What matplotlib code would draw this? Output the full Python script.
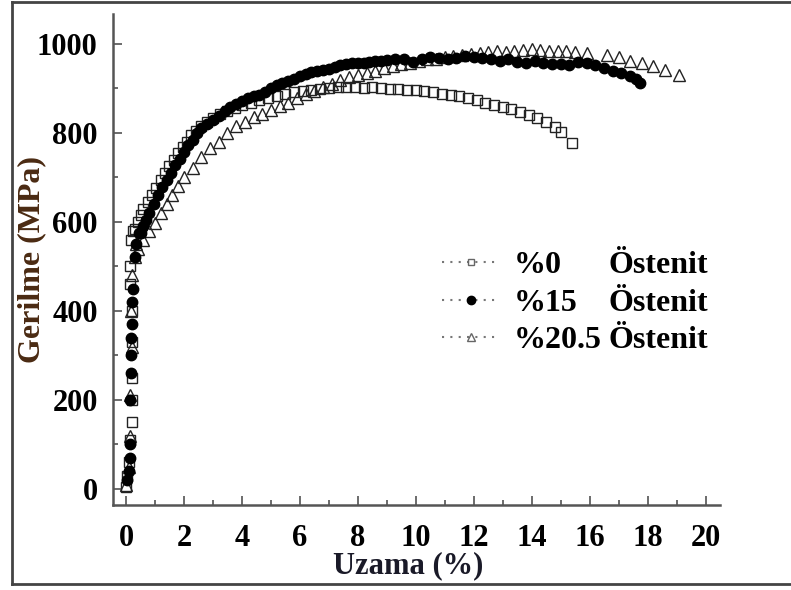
import matplotlib
matplotlib.use("Agg")
import matplotlib.pyplot as plt
from matplotlib.lines import Line2D
from matplotlib.ticker import MultipleLocator

plt.rcParams['font.family'] = ['Liberation Serif', 'DejaVu Serif']
plt.rcParams['font.weight'] = 'bold'

# %0 ostenit (open squares)
x0 = [0.0, 0.05, 0.1, 0.15, 0.2, 0.2, 0.22, 0.2, 0.2, 0.15, 0.12, 0.18, 0.25,
      0.3, 0.4, 0.5, 0.6, 0.75, 0.9, 1.05, 1.2, 1.35, 1.5, 1.65, 1.8, 1.95, 2.1,
      2.25, 2.4, 2.6, 2.8, 3.0, 3.25, 3.5, 3.75, 4.0, 4.3, 4.6, 4.9, 5.2, 5.5,
      5.8, 6.1, 6.4, 6.7, 7.0, 7.3, 7.6, 7.9, 8.2, 8.5, 8.8, 9.1, 9.4, 9.7,
      10.0, 10.3, 10.6, 10.9, 11.2, 11.5, 11.8, 12.1, 12.4, 12.7, 13.0, 13.3,
      13.6, 13.9, 14.2, 14.5, 14.8, 15.0, 15.4]
y0 = [5, 30, 60, 110, 150, 200, 250, 330, 400, 460, 500, 560, 580,
      585, 600, 615, 630, 645, 660, 675, 695, 710, 725, 740, 755, 768, 780,
      795, 805, 815, 825, 833, 842, 850, 856, 862, 868, 874, 878, 883, 887,
      891, 894, 897, 899, 900, 902, 902, 903, 901, 902, 900, 899, 898, 897,
      896, 893, 891, 888, 885, 882, 878, 874, 868, 863, 858, 853,
      846, 839, 833, 824, 814, 803, 778]

# %15 ostenit (filled circles)
x15 = [0.05, 0.1, 0.15, 0.15, 0.15, 0.17, 0.17, 0.17, 0.2, 0.22, 0.25, 0.3, 0.35, 0.45,
       0.5, 0.6, 0.7, 0.8, 0.95, 1.1, 1.25, 1.4, 1.55, 1.7, 1.85, 2.0, 2.15, 2.3,
       2.45, 2.6, 2.8, 3.0, 3.2, 3.4, 3.6, 3.8, 4.0, 4.2, 4.4, 4.6, 4.8, 5.0, 5.2,
       5.4, 5.6, 5.8, 6.0, 6.2, 6.4, 6.6, 6.8, 7.0, 7.2, 7.4, 7.6, 7.8, 8.0, 8.2,
       8.4, 8.6, 8.8, 9.0, 9.3, 9.6, 9.9, 10.2, 10.5, 10.8, 11.1, 11.4, 11.7,
       12.0, 12.3, 12.6, 12.9, 13.2, 13.5, 13.8, 14.1, 14.4, 14.7, 15.0, 15.3,
       15.6, 15.9, 16.2, 16.5, 16.8, 17.1, 17.4, 17.6, 17.75]
y15 = [20, 40, 70, 100, 200, 260, 300, 340, 370, 420, 450, 520, 550, 575,
       575, 590, 605, 620, 640, 660, 678, 695, 710, 728, 742, 758, 772, 785,
       800, 810, 820, 828, 838, 848, 858, 865, 872, 878, 882, 886, 892, 900, 908,
       912, 916, 920, 928, 932, 936, 938, 941, 944, 948, 952, 955, 958, 956, 958,
       960, 962, 961, 964, 966, 966, 960, 965, 970, 968, 966, 968, 972,
       970, 968, 966, 962, 966, 960, 958, 962, 958, 955, 954, 952,
       960, 956, 952, 946, 940, 934, 928, 920, 912]

# %20.5 ostenit (open triangles)
x20 = [0.0, 0.1, 0.15, 0.15, 0.2, 0.18, 0.22, 0.3, 0.35,
       0.4, 0.6, 0.8, 1.0, 1.2, 1.4, 1.6, 1.8, 2.0, 2.3, 2.6, 2.9, 3.2, 3.5,
       3.8, 4.1, 4.4, 4.7, 5.0, 5.3, 5.6, 5.9, 6.2, 6.5, 6.8, 7.1, 7.4, 7.7,
       8.0, 8.3, 8.6, 8.9, 9.2, 9.5, 9.8, 10.1, 10.4, 10.7, 11.0, 11.3, 11.6,
       11.9, 12.2, 12.5, 12.8, 13.1, 13.4, 13.7, 14.0, 14.3, 14.6, 14.9, 15.2,
       15.5, 15.9, 16.6, 17.0, 17.4, 17.8, 18.2, 18.6, 19.1]
y20 = [10, 50, 120, 210, 320, 400, 480, 520, 550,
       540, 560, 580, 598, 620, 640, 660, 680, 700, 720, 745, 765, 780, 800,
       815, 825, 835, 843, 852, 860, 868, 878, 888, 895, 902, 910, 918, 925,
       930, 935, 940, 946, 950, 955, 958, 962, 965, 967, 970, 972, 975,
       978, 980, 982, 984, 982, 985, 987, 988, 986, 985, 984, 983,
       981, 980, 975, 970, 962, 957, 950, 942, 930]

labels = ['%0', '%15', '%20.5']
suffix = 'Östenit'

fig = plt.figure(figsize=(7.91, 5.90), dpi=100)
ax = fig.add_axes([113 / 791, 1 - 505 / 590, 607 / 791, 491 / 590])

ax.plot(x0, y0, ls='none', marker='s', ms=6.5, mfc='none', mec='#222', mew=1.0)
ax.plot(x20, y20, ls='none', marker='^', ms=8, mfc='none', mec='#222', mew=1.0)
ax.plot(x15, y15, ls='none', marker='o', ms=7.5, mfc='black', mec='black', mew=1.0)

ax.set_xlim(-0.45, 20.5)
ax.set_ylim(-36, 1067)

for s in ['top', 'right']:
    ax.spines[s].set_visible(False)
for s in ['left', 'bottom']:
    ax.spines[s].set_color('#555')
    ax.spines[s].set_linewidth(1.8)

ax.xaxis.set_major_locator(MultipleLocator(2))
ax.xaxis.set_minor_locator(MultipleLocator(1))
ax.yaxis.set_major_locator(MultipleLocator(200))
ax.yaxis.set_minor_locator(MultipleLocator(100))
ax.tick_params(which='both', direction='in', color='#444', width=1.1, labelsize=22)
ax.tick_params(which='major', length=6.5)
ax.tick_params(which='minor', length=3.5)
ax.tick_params(axis='y', pad=11)
ax.tick_params(axis='x', pad=14)
for t in ax.get_xticklabels() + ax.get_yticklabels():
    t.set_fontweight('bold')

ax.set_xlabel('Uzama (%)', fontsize=22, fontweight='bold', color='#1a1a28')
ax.xaxis.set_label_coords(0.486, -0.094)
ax.set_ylabel('Gerilme (MPa)', fontsize=23, fontweight='bold', color='#4a2a12')
ax.yaxis.set_label_coords(-0.11, 0.5)

dots = (0, (1, 3))
handles = [
    Line2D([], [], color='#777', lw=1.5, ls=dots, marker='s', ms=5, mfc='none', mec='#666'),
    Line2D([], [], color='#777', lw=1.5, ls=dots, marker='o', ms=6, mfc='black', mec='black'),
    Line2D([], [], color='#777', lw=1.5, ls=dots, marker='^', ms=6, mfc='none', mec='#666'),
]
leg = fig.legend(handles, labels, loc='upper left', bbox_to_anchor=(442 / 791, 1 - 251 / 590),
                 frameon=False, borderpad=0, borderaxespad=0, handlelength=1.8,
                 handletextpad=0.45, labelspacing=0.25,
                 prop={'size': 23, 'weight': 'bold'})

fig.canvas.draw()
r = fig.canvas.get_renderer()
H = fig.bbox.height
for t in leg.get_texts():
    bb = t.get_window_extent(r)
    fig.text(608 / 791, (bb.y0 + bb.y1) / 2 / H, suffix, fontsize=23, fontweight='bold',
             va='center', ha='left')

# outer frame of the figure
fc = '#444'
fig.add_artist(Line2D([12 / 791, 12 / 791], [1 - 2 / 590, 1 - 584 / 590], color=fc, lw=2))
fig.add_artist(Line2D([12 / 791, 1.0], [1 - 2 / 590, 1 - 2 / 590], color=fc, lw=2))
fig.add_artist(Line2D([12 / 791, 1.0], [1 - 584 / 590, 1 - 584 / 590], color=fc, lw=2))

fig.savefig('out.png', dpi=100)
